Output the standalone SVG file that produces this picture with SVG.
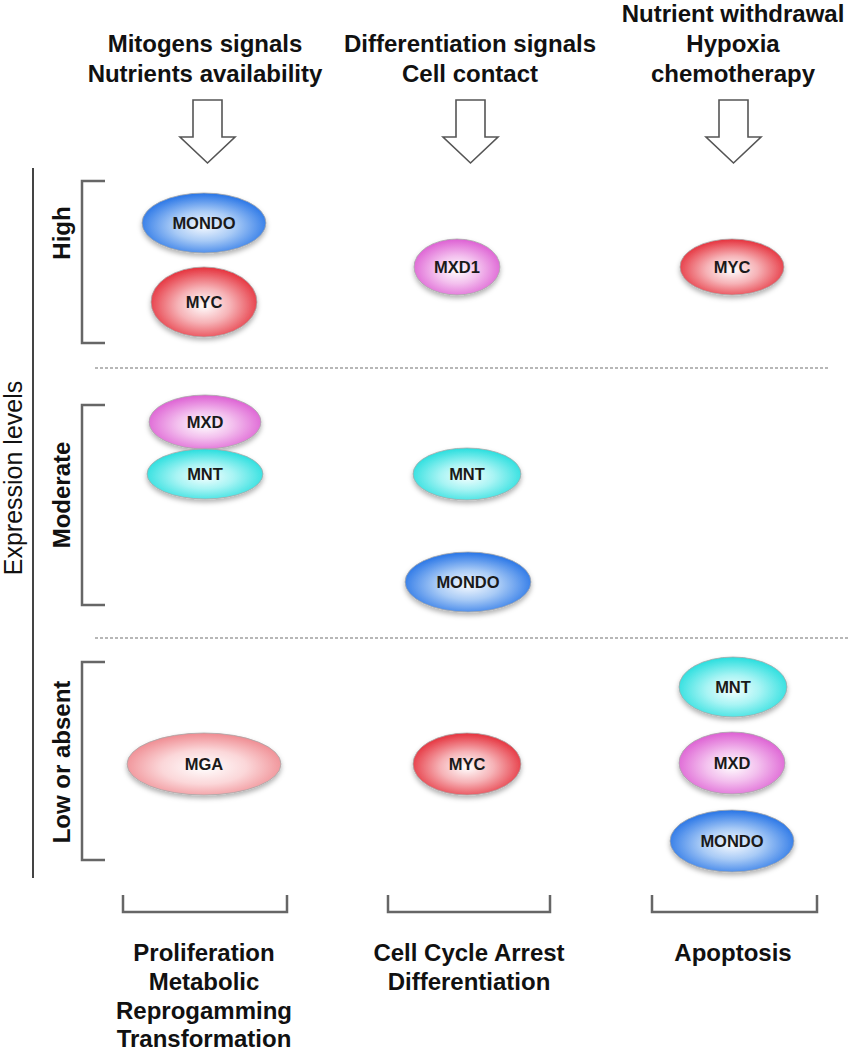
<svg xmlns="http://www.w3.org/2000/svg" width="852" height="1050" viewBox="0 0 852 1050">
<defs>
<radialGradient id="gBlue" cx="50%" cy="55%" r="55%">
<stop offset="0" stop-color="#f6faff"/><stop offset="0.45" stop-color="#a9cbf6"/><stop offset="1" stop-color="#2573e6"/>
</radialGradient>
<radialGradient id="gRed" cx="50%" cy="55%" r="55%">
<stop offset="0" stop-color="#ffffff"/><stop offset="0.45" stop-color="#f6b3b7"/><stop offset="1" stop-color="#e5303b"/>
</radialGradient>
<radialGradient id="gPink" cx="50%" cy="55%" r="55%">
<stop offset="0" stop-color="#ffffff"/><stop offset="0.45" stop-color="#f3c0ee"/><stop offset="1" stop-color="#dd5fd3"/>
</radialGradient>
<radialGradient id="gCyan" cx="50%" cy="55%" r="55%">
<stop offset="0" stop-color="#f4ffff"/><stop offset="0.45" stop-color="#a8f4f4"/><stop offset="1" stop-color="#27dede"/>
</radialGradient>
<radialGradient id="gMga" cx="50%" cy="55%" r="55%">
<stop offset="0" stop-color="#ffffff"/><stop offset="0.5" stop-color="#fbd7d9"/><stop offset="1" stop-color="#ef8a90"/>
</radialGradient>
<filter id="sh" x="-20%" y="-20%" width="140%" height="150%">
<feDropShadow dx="0" dy="3" stdDeviation="2.5" flood-color="#000" flood-opacity="0.3"/>
</filter>
</defs>
<style>
.hd{font-family:"Liberation Sans",Arial,sans-serif;font-weight:bold;font-size:24px;fill:#111;text-anchor:middle}
.lv{font-family:"Liberation Sans",Arial,sans-serif;font-weight:bold;font-size:24px;fill:#111;text-anchor:middle}
.ax{font-family:"Liberation Sans",Arial,sans-serif;font-size:25px;fill:#111;text-anchor:middle}
.nt{font-family:"Liberation Sans",Arial,sans-serif;font-weight:bold;font-size:16.5px;fill:#1a1a1a;text-anchor:middle}
.el{stroke:#a8a8a8;stroke-width:0.8;filter:url(#sh)}
.br{fill:none;stroke:#666;stroke-width:2.5}
.dash{stroke:#a0a0a0;stroke-width:1.5;stroke-dasharray:3 2}
.arr{fill:#fff;stroke:#555;stroke-width:1.6}
</style>
<rect width="852" height="1050" fill="#fff"/>

<g id="headers">
<text class="hd" x="205" y="52">Mitogens signals</text>
<text class="hd" x="205" y="82">Nutrients availability</text>
<text class="hd" x="470" y="52">Differentiation signals</text>
<text class="hd" x="470" y="82">Cell contact</text>
<text class="hd" x="733" y="22">Nutrient withdrawal</text>
<text class="hd" x="733" y="52">Hypoxia</text>
<text class="hd" x="733" y="82">chemotherapy</text>
</g>

<g id="connectors">
<path class="arr" d="M193,100 H222 V137 H235 L207.5,163 L180,137 H193 Z"/>
<path class="arr" d="M456,100 H485 V137 H498 L470.5,163 L443,137 H456 Z"/>
<path class="arr" d="M719,100 H748 V137 H761 L733.5,163 L706,137 H719 Z"/>
</g>

<g id="axis">
<line x1="33" y1="168" x2="33" y2="878" stroke="#444" stroke-width="2"/>
<text class="ax" transform="translate(22,478) rotate(-90)">Expression levels</text>
<path class="br" d="M105,181 H82 V343 H105"/>
<path class="br" d="M105,405 H82 V605 H105"/>
<path class="br" d="M105,662 H82 V860 H105"/>
<text class="lv" transform="translate(70,233) rotate(-90)">High</text>
<text class="lv" transform="translate(70,495) rotate(-90)">Moderate</text>
<text class="lv" transform="translate(70,762) rotate(-90)">Low or absent</text>
<line class="dash" x1="95" y1="368" x2="830" y2="368"/>
<line class="dash" x1="95" y1="638" x2="850" y2="638"/>
<path class="br" d="M123,895 V912 H287 V895"/>
<path class="br" d="M388,895 V912 H550 V895"/>
<path class="br" d="M652,895 V912 H817 V895"/>
</g>

<g id="n-mondo-high"><ellipse class="el" cx="204" cy="223" rx="62" ry="30" fill="url(#gBlue)"/><text class="nt" x="204" y="229">MONDO</text></g>
<g id="n-myc-high1"><ellipse class="el" cx="204" cy="302" rx="53" ry="35" fill="url(#gRed)"/><text class="nt" x="204" y="308">MYC</text></g>
<g id="n-mxd1-high"><ellipse class="el" cx="457" cy="267" rx="43" ry="28" fill="url(#gPink)"/><text class="nt" x="457" y="273">MXD1</text></g>
<g id="n-myc-high3"><ellipse class="el" cx="732" cy="267" rx="52" ry="28" fill="url(#gRed)"/><text class="nt" x="732" y="273">MYC</text></g>
<g id="n-mxd-mod"><ellipse class="el" cx="205" cy="422" rx="56" ry="27" fill="url(#gPink)"/><text class="nt" x="205" y="428">MXD</text></g>
<g id="n-mnt-mod1"><ellipse class="el" cx="205" cy="474" rx="58" ry="25" fill="url(#gCyan)"/><text class="nt" x="205" y="480">MNT</text></g>
<g id="n-mnt-mod2"><ellipse class="el" cx="467" cy="474" rx="54" ry="26" fill="url(#gCyan)"/><text class="nt" x="467" y="480">MNT</text></g>
<g id="n-mondo-mod"><ellipse class="el" cx="468" cy="582" rx="63" ry="30" fill="url(#gBlue)"/><text class="nt" x="468" y="588">MONDO</text></g>
<g id="n-mga-low"><ellipse class="el" cx="204" cy="764" rx="77" ry="31" fill="url(#gMga)"/><text class="nt" x="204" y="770">MGA</text></g>
<g id="n-myc-low"><ellipse class="el" cx="467" cy="764" rx="54" ry="31" fill="url(#gRed)"/><text class="nt" x="467" y="770">MYC</text></g>
<g id="n-mnt-low"><ellipse class="el" cx="733" cy="687" rx="54" ry="30" fill="url(#gCyan)"/><text class="nt" x="733" y="693">MNT</text></g>
<g id="n-mxd-low"><ellipse class="el" cx="732" cy="763" rx="53" ry="31" fill="url(#gPink)"/><text class="nt" x="732" y="769">MXD</text></g>
<g id="n-mondo-low"><ellipse class="el" cx="732" cy="841" rx="62" ry="31" fill="url(#gBlue)"/><text class="nt" x="732" y="847">MONDO</text></g>

<g id="footers">
<text class="hd" x="204" y="961">Proliferation</text>
<text class="hd" x="204" y="990">Metabolic</text>
<text class="hd" x="204" y="1019">Reprogamming</text>
<text class="hd" x="204" y="1047">Transformation</text>
<text class="hd" x="469" y="961">Cell Cycle Arrest</text>
<text class="hd" x="469" y="990">Differentiation</text>
<text class="hd" x="733" y="961">Apoptosis</text>
</g>
</svg>
